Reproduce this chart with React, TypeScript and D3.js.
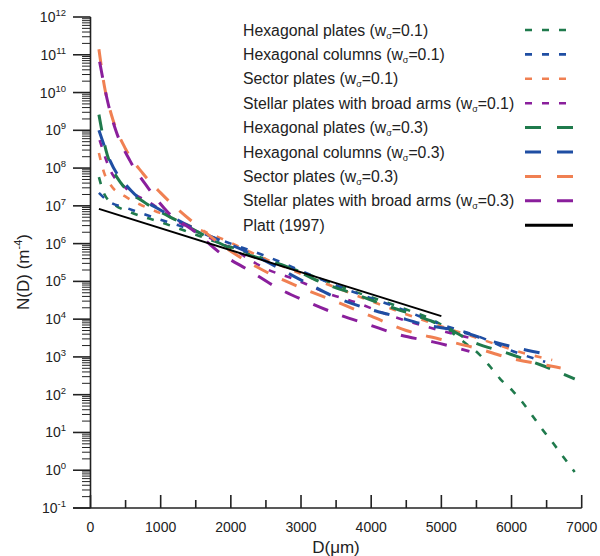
import React from "react";
import * as d3 from "d3";

// ---- data ----
const xTicks = [0, 1000, 2000, 3000, 4000, 5000, 6000, 7000];
const yExponents = [-1, 0, 1, 2, 3, 4, 5, 6, 7, 8, 9, 10, 11, 12];

const hexPlates01D = [120, 200, 350, 560, 1000, 1550, 2250, 3000, 3700, 4400, 5000, 5330, 5540, 5700, 5840, 6010, 6150, 6290, 6440, 6580, 6720, 6900];
const hexPlates01N = [5.75e7, 2.0e7, 1.05e7, 6.9e6, 3.7e6, 1.6e6, 5.6e5, 1.8e5, 5.9e4, 2.1e4, 7.1e3, 2.4e3, 1.17e3, 5.4e2, 2.6e2, 1.3e2, 65, 29, 12, 5.6, 2.5, 0.9];

const hexColumns01D = [120, 235, 520, 890, 1275, 1845, 2560, 3130, 3630, 4270, 4940, 5580, 6050, 6480];
const hexColumns01N = [2.2e7, 1.4e7, 8.7e6, 5.0e6, 2.95e6, 1.26e6, 4.2e5, 1.5e5, 6.3e4, 2.4e4, 7.9e3, 3.2e3, 1.35e3, 7.4e2];

const sector01D = [120, 190, 290, 490, 700, 990, 1420, 1850, 2400, 3030, 3700, 4410, 4980, 5550, 6120, 6580];
const sector01N = [2.5e8, 7.9e7, 3.5e7, 1.8e7, 1.1e7, 6.5e6, 2.95e6, 1.4e6, 4.7e5, 1.5e5, 4.9e4, 1.55e4, 6.6e3, 3.0e3, 1.35e3, 8.3e2];

const stellar01D = [130, 280, 500, 850, 1200, 1560, 2000, 2490, 2930, 3370, 3800, 4240, 4700, 5120, 5410];
const stellar01N = [5.5e8, 8.9e7, 3.0e7, 1.2e7, 4.3e6, 1.9e6, 7.6e5, 2.2e5, 1.1e5, 4.9e4, 2.7e4, 1.3e4, 7.1e3, 4.3e3, 3.2e3];

const hexPlates03D = [120, 220, 320, 435, 780, 1275, 1990, 2890, 3310, 3800, 4270, 4740, 5080, 5450, 5940, 6410, 6900];
const hexPlates03N = [2.6e9, 3.0e8, 8.9e7, 4.0e7, 1.2e7, 3.7e6, 7.6e5, 2.1e5, 9.1e4, 4.4e4, 2.1e4, 1.07e4, 5.9e3, 2.5e3, 1.26e3, 6.2e2, 2.6e2];

const hexColumns03D = [120, 280, 580, 990, 1560, 2270, 3090, 3490, 3910, 4340, 4770, 5240, 5750, 6220, 6590];
const hexColumns03N = [1.0e9, 1.55e8, 2.5e7, 7.9e6, 2.1e6, 5.6e5, 8.9e4, 3.8e4, 2.0e4, 1.2e4, 7.1e3, 4.9e3, 2.5e3, 1.5e3, 1.12e3];

const sector03D = [120, 200, 300, 500, 750, 1000, 1500, 2000, 2500, 3000, 3500, 4000, 4500, 5000, 5500, 6000, 6500, 6700];
const sector03N = [1.4e11, 1.4e10, 2.5e9, 3.2e8, 7.1e7, 2.2e7, 3.2e6, 6.3e5, 1.8e5, 6.8e4, 2.9e4, 1.2e4, 5.0e3, 2.9e3, 1.7e3, 9.1e2, 6.0e2, 5.1e2];

const stellar03D = [130, 250, 360, 560, 820, 1100, 1500, 1850, 2270, 2660, 3070, 3500, 3970, 4410, 4880, 5400];
const stellar03N = [6.5e10, 5.2e9, 1.0e9, 1.6e8, 3.0e7, 6.9e6, 2.0e6, 5.6e5, 1.9e5, 6.8e4, 3.0e4, 1.4e4, 7.1e3, 3.8e3, 2.5e3, 1.4e3];

const plattD = [120, 5000];
const plattN = [8.3e6, 1.2e4];

const GREEN = "#1f7a4c";
const BLUE = "#1f4ea3";
const ORANGE = "#f08052";
const PURPLE = "#8a1f9c";

type Series = { label: string; sub: string; val: string; d: number[]; n: number[]; color: string; kind: "short" | "long" | "solid" };

const series: Series[] = [
  { label: "Hexagonal plates (w", sub: "σ", val: "=0.1)", d: hexPlates01D, n: hexPlates01N, color: GREEN, kind: "short" },
  { label: "Hexagonal columns (w", sub: "σ", val: "=0.1)", d: hexColumns01D, n: hexColumns01N, color: BLUE, kind: "short" },
  { label: "Sector plates (w", sub: "σ", val: "=0.1)", d: sector01D, n: sector01N, color: ORANGE, kind: "short" },
  { label: "Stellar plates with broad arms (w", sub: "σ", val: "=0.1)", d: stellar01D, n: stellar01N, color: PURPLE, kind: "short" },
  { label: "Hexagonal plates (w", sub: "σ", val: "=0.3)", d: hexPlates03D, n: hexPlates03N, color: GREEN, kind: "long" },
  { label: "Hexagonal columns (w", sub: "σ", val: "=0.3)", d: hexColumns03D, n: hexColumns03N, color: BLUE, kind: "long" },
  { label: "Sector plates (w", sub: "σ", val: "=0.3)", d: sector03D, n: sector03N, color: ORANGE, kind: "long" },
  { label: "Stellar plates with broad arms (w", sub: "σ", val: "=0.3)", d: stellar03D, n: stellar03N, color: PURPLE, kind: "long" },
  { label: "Platt (1997)", sub: "", val: "", d: plattD, n: plattN, color: "#000000", kind: "solid" },
];

const FONT = "'Liberation Sans', Arial, sans-serif";

export default function App() {
  const W = 600, H = 556;
  const x = d3.scaleLinear().domain([0, 7000]).range([90.5, 581.7]);
  const y = d3.scaleLog().domain([0.1, 1e12]).range([508, 17]);
  const line = d3
    .line<[number, number]>()
    .x((p) => x(p[0]))
    .y((p) => y(p[1]))
    .curve(d3.curveMonotoneX);

  const dashOf = (k: string) => (k === "short" ? "7,10" : k === "long" ? "16,15" : undefined);
  const widthOf = (k: string) => (k === "short" ? 2.6 : k === "long" ? 3 : 2);

  const minorTicks: number[] = [];
  for (let e = -1; e < 12; e++) for (let m = 2; m <= 9; m++) minorTicks.push(m * Math.pow(10, e));
  const xMinor = d3.range(500, 7000, 1000);

  const legendX = 243, legendY0 = 30, legendDy = 24.4;

  return (
    <svg width={W} height={H} style={{ position: "absolute", left: 0, top: 0, background: "#fff" }} fontFamily={FONT}>
      <rect width={W} height={H} fill="#fff" />
      {/* axes */}
      <line x1={90.5} x2={90.5} y1={y(1e12)} y2={y(0.1)} stroke="#222" strokeWidth={1.6} />
      <line x1={73} x2={x(7000)} y1={y(0.1)} y2={y(0.1)} stroke="#222" strokeWidth={1.6} />
      {yExponents.map((e) => (
        <g key={"ye" + e}>
          <line x1={73} x2={90.5} y1={y(Math.pow(10, e))} y2={y(Math.pow(10, e))} stroke="#222" strokeWidth={1.6} />
          <text x={66} y={y(Math.pow(10, e)) + 5} textAnchor="end" fontSize={14} fill="#222">
            10<tspan dy={-6} fontSize={9.5}>{e}</tspan>
          </text>
        </g>
      ))}
      {minorTicks.map((v, i) => (
        <line key={"ym" + i} x1={82} x2={90.5} y1={y(v)} y2={y(v)} stroke="#222" strokeWidth={1} />
      ))}
      {xTicks.map((t) => (
        <g key={"xt" + t}>
          <line x1={x(t)} x2={x(t)} y1={508} y2={495} stroke="#222" strokeWidth={1.6} />
          <text x={x(t)} y={532} textAnchor="middle" fontSize={14} fill="#222">{t}</text>
        </g>
      ))}
      {xMinor.map((t) => (
        <line key={"xm" + t} x1={x(t)} x2={x(t)} y1={508} y2={500} stroke="#222" strokeWidth={1.6} />
      ))}
      <text x={336} y={553} textAnchor="middle" fontSize={17} fill="#222">D(μm)</text>
      <text transform="translate(29,272) rotate(-90)" textAnchor="middle" fontSize={17} fill="#222">
        N(D) (m<tspan dy={-7} fontSize={11}>-4</tspan><tspan dy={7}>)</tspan>
      </text>

      {/* curves */}
      {series.map((s, i) => (
        <path
          key={"s" + i}
          d={line(s.d.map((dv, j) => [dv, s.n[j]] as [number, number])) || ""}
          fill="none"
          stroke={s.color}
          strokeWidth={widthOf(s.kind)}
          strokeDasharray={dashOf(s.kind)}
        />
      ))}

      {/* legend */}
      {series.map((s, i) => {
        const ly = legendY0 + i * legendDy;
        return (
          <g key={"lg" + i}>
            <text x={legendX} y={ly + 5.5} fontSize={15.8} fill="#222">
              {s.label}
              {s.sub ? (
                <>
                  <tspan dy={3} fontSize={9}>{s.sub}</tspan>
                  <tspan dy={-3}>{s.val}</tspan>
                </>
              ) : null}
            </text>
            <line
              x1={525}
              x2={s.kind === "short" ? 566 : 573}
              y1={ly}
              y2={ly}
              stroke={s.color}
              strokeWidth={s.kind === "short" ? 2.6 : 3}
              strokeDasharray={s.kind === "short" ? "7,10" : s.kind === "long" ? "16,16" : undefined}
            />
          </g>
        );
      })}
    </svg>
  );
}
